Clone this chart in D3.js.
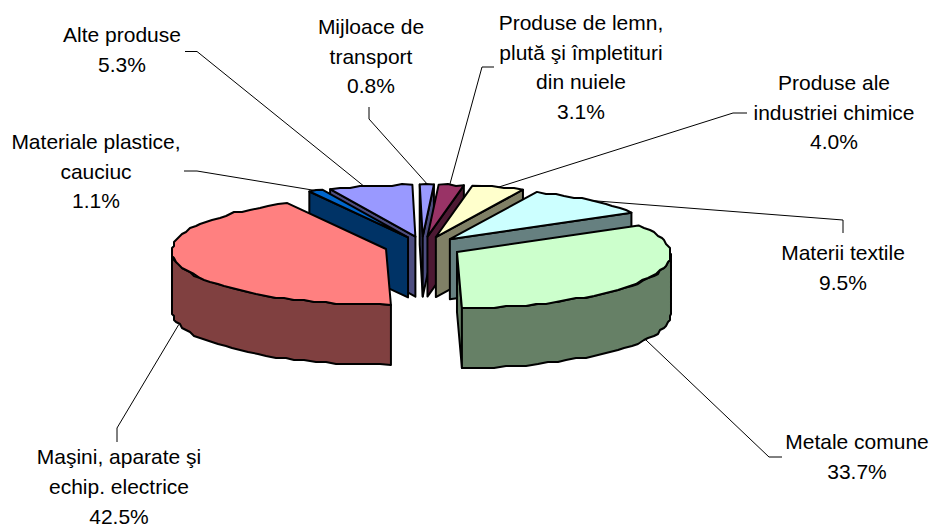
<!DOCTYPE html>
<meta charset="utf-8">
<style>
  body { margin: 0; background: #fff; }
  .label { font-family: "Liberation Sans", Arial, sans-serif; font-size: 21px; fill: #000; text-anchor: middle; }
  .leader { fill: none; stroke: #000; stroke-width: 1px; }
  .face { stroke: #000; stroke-width: 2px; stroke-linejoin: round; }
</style>
<script src="https://cdn.jsdelivr.net/npm/d3@7"></script>
<svg id="chart" width="931" height="528"></svg>
<script>
// clockwise from the top of the pie
var categories = [
  ["Produse de lemn,", "plută şi împletituri", "din nuiele"],
  ["Produse ale", "industriei chimice"],
  ["Materii textile"],
  ["Metale comune"],
  ["Maşini, aparate şi", "echip. electrice"],
  ["Materiale plastice,", "cauciuc"],
  ["Alte produse"],
  ["Mijloace de", "transport"]
];
var values = [3.1, 4.0, 9.5, 33.7, 42.5, 1.1, 5.3, 0.8];
var topColors = ["#993366", "#FFFFCC", "#CCFFFF", "#CCFFCC", "#FF8080", "#0066CC", "#9999FF", "#9999FF"];
var wallColors = ["#4D1933", "#808066", "#668080", "#668066", "#804040", "#003366", "#4D4D80", "#4D4D80"];

// label placing: centre x, first baseline, leader elbow and leader start
var labelLayout = [
  { x: 581, y: 30, leader: [[494, 67], [482, 67]] },
  { x: 834, y: 90, leader: [[747, 113], [733, 113]] },
  { x: 843, y: 260, leader: [[843, 233], [843, 220]] },
  { x: 857, y: 449, leader: [[782, 457], [769, 457]] },
  { x: 119, y: 464.4, leader: [[117, 442], [117, 428]] },
  { x: 96, y: 149, leader: [[184, 171], [197, 171]] },
  { x: 122, y: 42, leader: [[185, 51.5], [197, 51.5]] },
  { x: 371, y: 34, leader: [[369, 107], [369, 119]] }
];

var cx = 423.7, cy = 246.8, explode = 38.6, depth = 60, lineGap = 29.6;
var svg = d3.select("#chart");

// flattened pie plane, front edge a bit nearer than the back
var px = d3.scaleLinear().domain([-1, 1]).range([-214, 214]);
var py = d3.scaleLinear().domain([-1, 1]).range([-52, 56]);
var expY = d3.scaleLinear().domain([-1, 1]).range([-10.3, 10.3]);

// the back of the source pie is turned a little against the front
function warp(a) {
  var deg = ((a * 180 / Math.PI + 180) % 360 + 360) % 360 - 180;
  var turn = -1.5 - 0.9 * (1 - Math.cos(a)) / 2 + 4.5 * Math.exp(-Math.pow(deg / 6, 2));
  return a + turn * Math.PI / 180;
}

var pie = d3.pie().sort(null).startAngle(0).endAngle(2 * Math.PI);
var slices = pie(values).map(function(d, i) {
  var mid = (d.startAngle + d.endAngle) / 2;
  return {
    i: i,
    mid: mid,
    a0: warp(d.startAngle),
    a1: warp(d.endAngle),
    apex: [cx + explode * Math.sin(mid), cy + expY(-Math.cos(mid))]
  };
});

// rim point, snapped to a coarse grid like the low-res source outline
function rim(s, a, dz) {
  return [s.apex[0] + px(Math.sin(a)), s.apex[1] + py(-Math.cos(a)) + (dz || 0)];
}
function arcPoints(s, a0, a1, dz) {
  var n = Math.max(1, Math.ceil((a1 - a0) / (3 * Math.PI / 180)));
  return d3.range(n + 1).map(function(k) {
    var p = rim(s, a0 + (a1 - a0) * k / n, dz);
    if (k === 0 || k === n) return p;
    return [Math.round(p[0] / 2) * 2, Math.round(p[1] / 2) * 2];
  });
}

var line = d3.line();
var closedPath = function(pts) { return line(pts) + "Z"; };

// back slices first
var order = slices.slice().sort(function(a, b) { return Math.cos(b.mid) - Math.cos(a.mid); });

order.forEach(function(s) {
  var g = svg.append("g");
  var wall = wallColors[s.i];
  function radial(a) {
    var r = rim(s, a);
    g.append("path").attr("class", "face").attr("fill", wall)
      .attr("d", closedPath([s.apex, r, [r[0], r[1] + depth], [s.apex[0], s.apex[1] + depth]]));
  }
  if (Math.sin(s.a0) < 0) radial(s.a0);
  if (Math.sin(s.a1) > 0) radial(s.a1);

  // outer wall, front half only
  var f0 = Math.max(s.a0, Math.PI / 2), f1 = Math.min(s.a1, 3 * Math.PI / 2);
  if (f1 > f0) {
    var upper = arcPoints(s, f0, f1, 0);
    var lower = arcPoints(s, f0, f1, depth);
    g.append("path").attr("class", "face").attr("fill", wall)
      .attr("d", closedPath(upper.concat(lower.reverse())));
  }

  g.append("path").attr("class", "face").attr("fill", topColors[s.i])
    .attr("d", closedPath([s.apex].concat(arcPoints(s, s.a0, s.a1, 0))));
});

// leaders run to the rim at the middle of the slice
slices.forEach(function(s) {
  var frontFace = Math.cos(s.mid) < 0;
  var end = rim(s, warp(s.mid), frontFace ? depth : 0);
  svg.append("path").attr("class", "leader")
    .attr("d", line(labelLayout[s.i].leader.concat([end])));
});

categories.forEach(function(lines, i) {
  var pos = labelLayout[i];
  var t = svg.append("text").attr("class", "label");
  lines.concat([values[i].toFixed(1) + "%"]).forEach(function(txt, k) {
    t.append("tspan").attr("x", pos.x).attr("y", pos.y + k * lineGap).text(txt);
  });
});
</script>
